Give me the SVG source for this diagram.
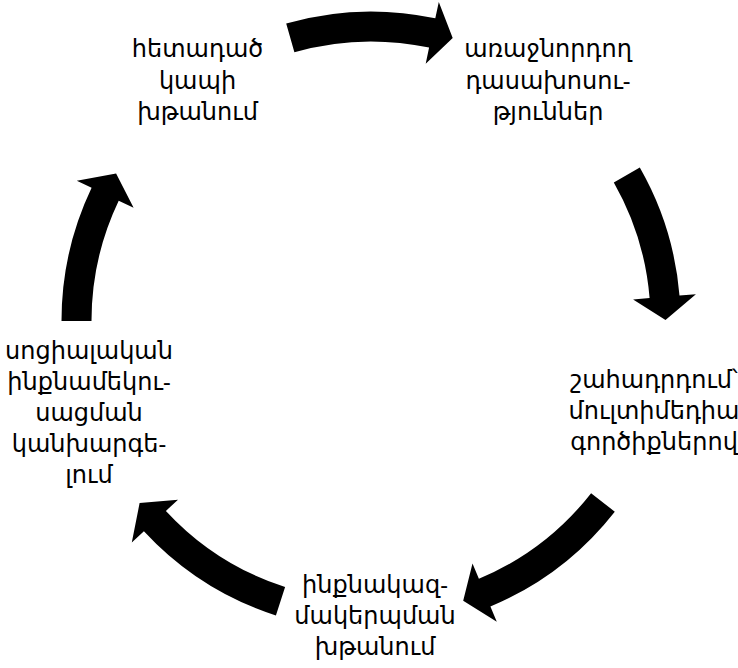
<svg xmlns="http://www.w3.org/2000/svg" width="738" height="668" viewBox="0 0 738 668">
<style>
.lbl{font-family:"Noto Sans","DejaVu Sans",sans-serif;font-size:24px;fill:#000;text-anchor:middle}
.arr{fill:#000;stroke:none}
</style>
<rect width="738" height="668" fill="#fff"/>
<g id="connectors">
<path class="arr" d="M286.2,23.4 A309.5,309.5 0 0 1 435.3,18.3 L438.8,2.1 L452.7,38.0 L425.7,63.8 L429.1,47.6 A279.5,279.5 0 0 0 294.4,52.2 Z"/>
<path class="arr" d="M639.8,167.6 A309.5,309.5 0 0 1 679.5,295.6 L695.9,294.3 L665.5,320.0 L633.1,299.4 L649.6,298.1 A279.5,279.5 0 0 0 613.8,182.5 Z"/>
<path class="arr" d="M614.8,511.7 A309.5,309.5 0 0 1 490.4,606.5 L496.8,621.7 L463.2,600.7 L472.5,563.6 L478.9,578.8 A279.5,279.5 0 0 0 591.1,493.2 Z"/>
<path class="arr" d="M275.9,615.5 A309.5,309.5 0 0 1 143.9,531.3 L131.8,542.5 L139.6,503.1 L178.0,499.7 L165.9,510.9 A279.5,279.5 0 0 0 285.1,587.0 Z"/>
<path class="arr" d="M61.5,321 A309.5,309.5 0 0 1 91.6,187.8 L76.8,180.7 L116.1,173.5 L133.6,207.8 L118.7,200.7 A279.5,279.5 0 0 0 91.5,321 Z"/>
</g>
<g id="node1"><text class="lbl" x="548" y="57">առաջնորդող</text><text class="lbl" x="548" y="88.5">դասախոսու-</text><text class="lbl" x="548" y="120">թյուններ</text></g>
<g id="node2"><text class="lbl" x="654" y="388">շահադրդում՝</text><text class="lbl" x="654" y="419">մուլտիմեդիա</text><text class="lbl" x="654" y="450">գործիքներով</text></g>
<g id="node3"><text class="lbl" x="375" y="593">ինքնակազ-</text><text class="lbl" x="375" y="624">մակերպման</text><text class="lbl" x="375" y="655">խթանում</text></g>
<g id="node4"><text class="lbl" x="89" y="359">սոցիալական</text><text class="lbl" x="89" y="390">ինքնամեկու-</text><text class="lbl" x="89" y="421">սացման</text><text class="lbl" x="89" y="452">կանխարգե-</text><text class="lbl" x="89" y="483">լում</text></g>
<g id="node5"><text class="lbl" x="197.5" y="57">հետադած</text><text class="lbl" x="197.5" y="88.5">կապի</text><text class="lbl" x="197.5" y="120">խթանում</text></g>
</svg>
